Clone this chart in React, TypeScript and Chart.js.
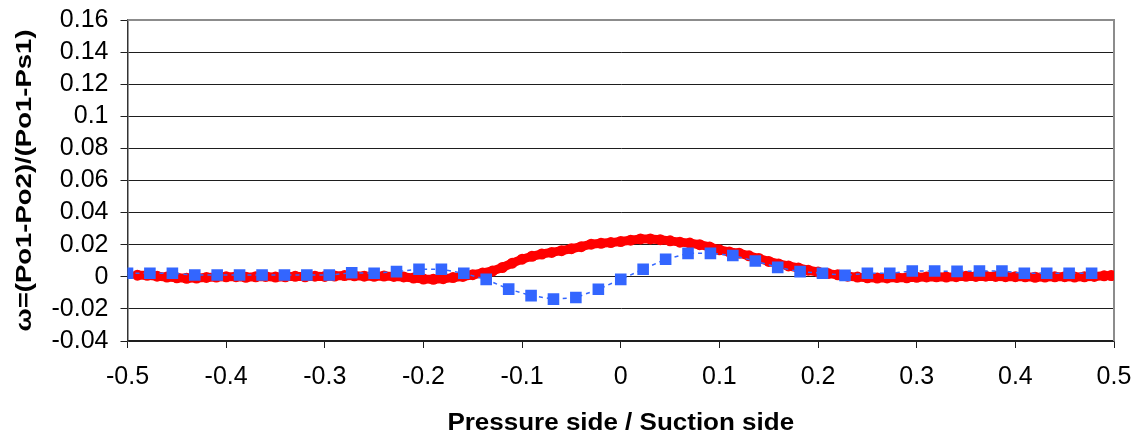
import { useEffect, useRef } from "react";
import { Chart, registerables } from "chart.js";

Chart.register(...registerables);

const FONT = "'Liberation Sans', Arial, Helvetica, sans-serif";

// Axis ticks and their labels
const X_TICKS = [-0.5, -0.4, -0.3, -0.2, -0.1, 0, 0.1, 0.2, 0.3, 0.4, 0.5];
const X_TICK_LABELS = ["-0.5", "-0.4", "-0.3", "-0.2", "-0.1", "0", "0.1", "0.2", "0.3", "0.4", "0.5"];
const Y_TICKS = [-0.04, -0.02, 0, 0.02, 0.04, 0.06, 0.08, 0.1, 0.12, 0.14, 0.16];
const Y_TICK_LABELS = ["-0.04", "-0.02", "0", "0.02", "0.04", "0.06", "0.08", "0.1", "0.12", "0.14", "0.16"];

const X_TITLE = "Pressure side / Suction side";
const Y_TITLE = "ω=(Po1-Po2)/(Po1-Ps1)";

// Discrete probe traverse (blue squares)
const PROBE_X = [
  -0.5, -0.4773, -0.4545, -0.4318, -0.4091, -0.3864, -0.3636, -0.3409, -0.3182, -0.2955,
  -0.2727, -0.25, -0.2273, -0.2045, -0.1818, -0.1591, -0.1364, -0.1136, -0.0909, -0.0682,
  -0.0455, -0.0227, 0, 0.0227, 0.0455, 0.0682, 0.0909, 0.1136, 0.1364, 0.1591,
  0.1818, 0.2045, 0.2273, 0.25, 0.2727, 0.2955, 0.3182, 0.3409, 0.3636, 0.3864,
  0.4091, 0.4318, 0.4545, 0.4773,
];
const PROBE_OMEGA = [
  0.0022, 0.0022, 0.0022, 0.0011, 0.0011, 0.0011, 0.0011, 0.0011, 0.0011, 0.0011,
  0.0025, 0.0022, 0.0032, 0.0047, 0.0047, 0.0022, -0.0016, -0.0077, -0.0117, -0.0139,
  -0.0129, -0.0078, -0.0016, 0.0047, 0.0109, 0.0146, 0.0146, 0.0133, 0.0098, 0.0059,
  0.0032, 0.0022, 0.0009, 0.0022, 0.0022, 0.0036, 0.0036, 0.0034, 0.0036, 0.0036,
  0.0022, 0.0022, 0.0022, 0.0022,
];

// Continuous traverse (red)
const TRAVERSE_X = [
  -0.49, -0.48, -0.47, -0.46, -0.45, -0.44, -0.43, -0.42, -0.41, -0.4,
  -0.39, -0.38, -0.37, -0.36, -0.35, -0.34, -0.33, -0.32, -0.31, -0.3,
  -0.29, -0.28, -0.27, -0.26, -0.25, -0.24, -0.23, -0.22, -0.21, -0.2,
  -0.19, -0.18, -0.17, -0.16, -0.15, -0.14, -0.13, -0.12, -0.11, -0.1,
  -0.09, -0.08, -0.07, -0.06, -0.05, -0.04, -0.03, -0.02, -0.01, 0,
  0.01, 0.02, 0.03, 0.04, 0.05, 0.06, 0.07, 0.08, 0.09, 0.1,
  0.11, 0.12, 0.13, 0.14, 0.15, 0.16, 0.17, 0.18, 0.19, 0.2,
  0.21, 0.22, 0.23, 0.24, 0.25, 0.26, 0.27, 0.28, 0.29, 0.3,
  0.31, 0.32, 0.33, 0.34, 0.35, 0.36, 0.37, 0.38, 0.39, 0.4,
  0.41, 0.42, 0.43, 0.44, 0.45, 0.46, 0.47, 0.48, 0.49, 0.497,
];
const TRAVERSE_OMEGA = [
  0.001, 0.0009, 0.0004, -0.0002, -0.0006, -0.0009, -0.0008, -0.0004, -0.0002, 0,
  0.0001, -0.0003, 0, 0.0002, -0.0002, 0, 0.0003, 0, 0.0004, 0.0002,
  0.0005, 0.0008, 0.0006, 0.0004, 0.0003, 0.0005, 0.0002, -0.0001, -0.0008, -0.0014,
  -0.0016, -0.0012, -0.0005, 0.0002, 0.0013, 0.0024, 0.0036, 0.0058, 0.0085, 0.011,
  0.0128, 0.0142, 0.0152, 0.0163, 0.0175, 0.0188, 0.0203, 0.0209, 0.0213, 0.022,
  0.0228, 0.0236, 0.0236, 0.0231, 0.0224, 0.0216, 0.021, 0.02, 0.0186, 0.0168,
  0.0155, 0.0147, 0.0131, 0.0114, 0.0096, 0.008, 0.0068, 0.0055, 0.0041, 0.003,
  0.002, 0.0012, 0.0004, -0.0002, -0.0006, -0.0008, -0.0007, -0.0004, -0.0006, -0.0003,
  -0.0001, 0, -0.0002, 0.0001, 0.0003, 0.0002, 0.0004, 0.0002, 0.0001, 0.0001,
  0, -0.0003, -0.0002, 0, 0.0001, -0.0002, 0, 0.0002, 0.0006, 0.0008,
];

const RED = "#ff0000";
const BLUE = "#3366ff";
const GRID = "#1e1e1e";
const FRAME = "#8c8c8c";

// Gray frame on the top and right of the plot area
const framePlugin = {
  id: "frame",
  beforeDatasetsDraw(chart: any) {
    const { ctx, chartArea } = chart;
    ctx.save();
    ctx.strokeStyle = FRAME;
    ctx.lineWidth = 2;
    ctx.beginPath();
    ctx.moveTo(chartArea.left, chartArea.top);
    ctx.lineTo(chartArea.right, chartArea.top);
    ctx.lineTo(chartArea.right, chartArea.bottom);
    ctx.stroke();
    ctx.restore();
  },
};

// Axis titles, drawn with a slight horizontal stretch
const titlesPlugin = {
  id: "axisTitles",
  afterDraw(chart: any) {
    const { ctx, chartArea } = chart;
    ctx.save();
    ctx.fillStyle = "#000";
    ctx.textAlign = "center";
    ctx.textBaseline = "middle";

    ctx.save();
    ctx.font = `bold 23px ${FONT}`;
    ctx.translate((chartArea.left + chartArea.right) / 2, 424);
    ctx.scale(1.13, 1);
    ctx.fillText(X_TITLE, 0, 0);
    ctx.restore();

    ctx.save();
    ctx.font = `bold 22px ${FONT}`;
    ctx.translate(25, (chartArea.top + chartArea.bottom) / 2);
    ctx.rotate(-Math.PI / 2);
    ctx.scale(1.25, 1);
    ctx.fillText(Y_TITLE, 0, 0);
    ctx.restore();

    ctx.restore();
  },
};

export default function App() {
  const canvasRef = useRef<HTMLCanvasElement | null>(null);

  useEffect(() => {
    const canvas = canvasRef.current;
    if (!canvas) return;

    const probe = PROBE_X.map((x, i) => ({ x, y: PROBE_OMEGA[i] }));
    const traverse = TRAVERSE_X.map((x, i) => ({ x, y: TRAVERSE_OMEGA[i] }));

    const chart = new Chart(canvas, {
      type: "scatter",
      data: {
        datasets: [
          {
            label: "Probe",
            data: probe,
            order: 0,
            showLine: true,
            borderColor: BLUE,
            borderWidth: 1.5,
            borderDash: [4, 4],
            backgroundColor: BLUE,
            pointStyle: "rect",
            pointRadius: 8.2,
            pointBorderWidth: 0,
            pointBackgroundColor: BLUE,
          },
          {
            label: "Traverse",
            data: traverse,
            order: 1,
            showLine: true,
            borderColor: RED,
            borderWidth: 9,
            backgroundColor: RED,
            pointStyle: "circle",
            pointRadius: 5.5,
            pointBorderWidth: 0,
            pointBackgroundColor: RED,
          },
        ],
      },
      options: {
        responsive: false,
        animation: false,
        devicePixelRatio: 1,
        layout: { autoPadding: false, padding: { top: 20, right: 26, left: 0, bottom: 0 } },
        plugins: {
          legend: { display: false },
          tooltip: { enabled: false },
          title: { display: false },
        },
        scales: {
          x: {
            type: "linear",
            min: -0.5,
            max: 0.5,
            afterFit: (scale: any) => {
              scale.height = 99;
              scale.paddingLeft = 0;
              scale.paddingRight = 0;
            },
            afterBuildTicks: (scale: any) => {
              scale.ticks = X_TICKS.map((value) => ({ value }));
            },
            ticks: {
              color: "#000",
              font: { family: FONT, size: 25 },
              padding: 14,
              maxRotation: 0,
              autoSkip: false,
              callback: (value: any) => {
                const i = X_TICKS.findIndex((t) => Math.abs(t - value) < 1e-9);
                return i >= 0 ? X_TICK_LABELS[i] : "";
              },
            },
            grid: {
              drawOnChartArea: false,
              drawTicks: true,
              tickLength: 7,
              tickColor: GRID,
              tickWidth: 1,
            },
            border: { color: GRID, width: 1.5 },
          },
          y: {
            type: "linear",
            min: -0.04,
            max: 0.16,
            afterFit: (scale: any) => {
              scale.width = 127.5;
              scale.paddingTop = 0;
              scale.paddingBottom = 0;
            },
            afterBuildTicks: (scale: any) => {
              scale.ticks = Y_TICKS.map((value) => ({ value }));
            },
            ticks: {
              color: "#000",
              font: { family: FONT, size: 25 },
              padding: 12,
              autoSkip: false,
              callback: (value: any) => {
                const i = Y_TICKS.findIndex((t) => Math.abs(t - value) < 1e-9);
                return i >= 0 ? Y_TICK_LABELS[i] : "";
              },
            },
            grid: {
              color: (c: any) => (c.tick && Math.abs(c.tick.value - 0.16) < 1e-9 ? "rgba(0,0,0,0)" : GRID),
              lineWidth: 1,
              drawTicks: true,
              tickLength: 7,
              tickColor: GRID,
              tickWidth: 1,
            },
            border: { color: "#333", width: 1.5 },
          },
        },
      },
      plugins: [framePlugin, titlesPlugin],
    });

    return () => chart.destroy();
  }, []);

  return (
    <div style={{ position: "absolute", left: 0, top: 0, width: 1140, height: 440, background: "#fff" }}>
      <canvas ref={canvasRef} width={1140} height={440} style={{ display: "block" }} />
    </div>
  );
}
